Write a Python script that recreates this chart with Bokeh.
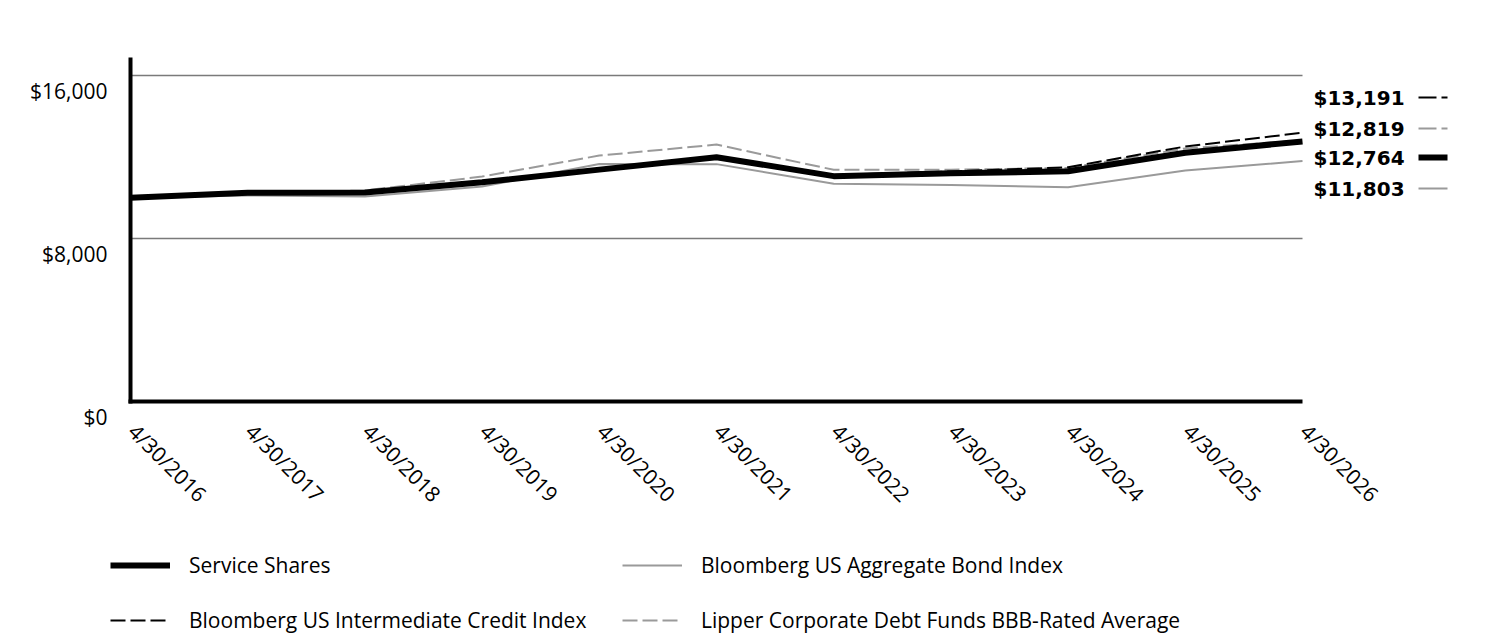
from bokeh.plotting import figure
from bokeh.models import Range1d, Legend, LegendItem
from bokeh.core.properties import value
from bokeh.embed import file_html
from bokeh.resources import INLINE
import math

# Growth of a $10,000 investment, annual observations
DATES = ["4/30/2016", "4/30/2017", "4/30/2018", "4/30/2019", "4/30/2020",
         "4/30/2021", "4/30/2022", "4/30/2023", "4/30/2024", "4/30/2025",
         "4/30/2026"]
SERVICE = [10000, 10243, 10260, 10760, 11380, 11990, 11060, 11200, 11300, 12210, 12764]
AGGREGATE = [10000, 10110, 10065, 10550, 11660, 11650, 10690, 10620, 10520, 11340, 11803]
INTERMEDIATE = [10000, 10250, 10300, 10780, 11420, 12010, 11120, 11290, 11500, 12515, 13191]
LIPPER = [10000, 10230, 10356, 11040, 12070, 12610, 11370, 11380, 11460, 12420, 12819]

Y_TICKS = [0, 8000, 16000]
Y_TICK_LABELS = ["$0", "$8,000", "$16,000"]
GRID_VALUES = [8000, 16000]

END_LABELS = ["$13,191", "$12,819", "$12,764", "$11,803"]

LEGEND_LEFT = ["Service Shares", "Bloomberg US Intermediate Credit Index"]
LEGEND_RIGHT = ["Bloomberg US Aggregate Bond Index",
                "Lipper Corporate Debt Funds BBB-Rated Average"]

FONT = "Open Sans"
GRAY = "#9a9a9a"
DASH = "15 5"

# page geometry (pixels)
W, H = 1512, 636
LEFT, RIGHT_EDGE, TOP, BOTTOM = 130, 1302, 57, 401
n = len(DATES)
xs = list(range(n))
ppx = (RIGHT_EDGE - LEFT) / (n - 1)     # pixels per year
ypp = 8000 / 163.0                      # dollars per pixel

def px_x(d):
    return d / ppx

def px_y(d):
    return d * ypp

p = figure(width=W, height=H, output_backend="svg", toolbar_location=None,
           x_range=Range1d(-px_x(LEFT), px_x(W - LEFT)),
           y_range=Range1d(-px_y(H - BOTTOM), px_y(BOTTOM)),
           x_axis_location=None, y_axis_location=None,
           min_border=0, min_border_left=0, min_border_right=0,
           min_border_top=0, min_border_bottom=0)
p.outline_line_color = None
p.grid.visible = False
p.background_fill_color = "white"
p.border_fill_color = "white"

# horizontal gridlines
p.segment(x0=[0] * len(GRID_VALUES), x1=[n - 1] * len(GRID_VALUES),
          y0=GRID_VALUES, y1=GRID_VALUES, line_color="#7a7a7a", line_width=1.5)

# series
r_agg = p.line(xs, AGGREGATE, line_color=GRAY, line_width=2)
r_lip = p.line(xs, LIPPER, line_color=GRAY, line_width=2, line_dash=DASH)
r_int = p.line(xs, INTERMEDIATE, line_color="black", line_width=2, line_dash=DASH)
r_srv = p.line(xs, SERVICE, line_color="black", line_width=6)

# axis lines
y_top = px_y(BOTTOM - TOP)
p.segment(x0=[0], y0=[-px_y(2)], x1=[0], y1=[y_top], line_color="black", line_width=4)
p.segment(x0=[-px_x(2)], y0=[0], x1=[n - 1], y1=[0], line_color="black", line_width=4)

# y tick labels, hanging just under their gridline
p.text(x=[0] * len(Y_TICKS), y=[v - px_y(15) for v in Y_TICKS], text=Y_TICK_LABELS,
       x_offset=-23, text_align="right", text_baseline="middle",
       text_font=value(FONT), text_font_size="21px", text_color="black")

# x tick labels, rotated
p.text(x=[x + px_x(2) for x in xs], y=[-px_y(26)] * n, text=DATES,
       angle=-math.pi / 4, text_align="left", text_baseline="middle",
       text_font=value(FONT), text_font_size="21px", text_color="black")

# ending values, stacked at the right of the plot
label_px = [97, 128, 157, 188]
label_y = [px_y(BOTTOM - yp) for yp in label_px]
end_x = n - 1
p.text(x=[end_x] * 4, y=label_y, text=END_LABELS, x_offset=11,
       text_align="left", text_baseline="middle",
       text_font=value("DejaVu Sans"), text_font_style="bold", text_font_size="20px",
       text_color="black")
sx0 = end_x + px_x(1418 - RIGHT_EDGE)
sx1 = end_x + px_x(1447 - RIGHT_EDGE)
p.segment(x0=[sx0], y0=[label_y[0]], x1=[sx1], y1=[label_y[0]],
          line_color="black", line_width=2, line_dash="18 5")
p.segment(x0=[sx0], y0=[label_y[1]], x1=[sx1], y1=[label_y[1]],
          line_color=GRAY, line_width=2, line_dash="18 5")
p.segment(x0=[sx0], y0=[label_y[2]], x1=[sx1], y1=[label_y[2]],
          line_color="black", line_width=6)
p.segment(x0=[sx0], y0=[label_y[3]], x1=[sx1], y1=[label_y[3]],
          line_color=GRAY, line_width=2)


def make_legend(labels, renderers, loc):
    return Legend(items=[LegendItem(label=t, renderers=[r]) for t, r in zip(labels, renderers)],
                  location=loc, orientation="vertical",
                  glyph_width=60, glyph_height=28, label_height=28,
                  label_standoff=19, spacing=27, padding=0, margin=0,
                  border_line_color=None, background_fill_alpha=0,
                  label_text_font=FONT, label_text_font_size="21px",
                  label_text_color="black", label_text_baseline="middle")


p.add_layout(make_legend(LEGEND_LEFT, [r_srv, r_int], (110, 2)))
p.add_layout(make_legend(LEGEND_RIGHT, [r_agg, r_lip], (622, 2)))

open("out.html", "w").write(file_html(p, INLINE))
